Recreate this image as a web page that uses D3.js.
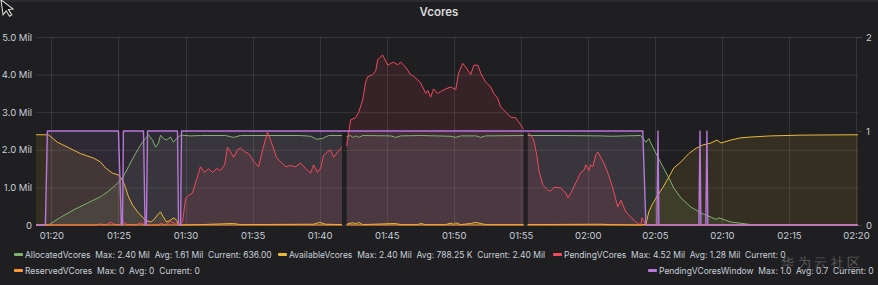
<!DOCTYPE html>
<html>
<head>
<meta charset="utf-8">
<script src="https://cdn.jsdelivr.net/npm/d3@7"></script>
<style>
  html, body { margin: 0; padding: 0; background: #1f1f21; }
  svg { display: block; }
  text { font-family: Inter, Roboto, "Noto Sans", sans-serif; }
</style>
</head>
<body>
<svg id="chart" width="878" height="285"></svg>
<script>
// ---------------- DATA (values in millions, right axis series 0..1) ----------------
const title = "Vcores";
const xTickLabels = ["01:20","01:25","01:30","01:35","01:40","01:45","01:50","01:55","02:00","02:05","02:10","02:15","02:20"];
const leftTicks = [0, 1, 2, 3, 4, 5];
const rightTicks = [0, 1, 2];

const allocatedVcores = [
  ["01:18:51",0],["01:19:47",0],["01:20:40",0.2],["01:21:39",0.4],["01:22:23",0.53],["01:23:08",0.66],
  ["01:23:39",0.75],["01:24:11",0.88],["01:24:47",1.06],["01:25:18",1.25],["01:25:45",1.55],["01:26:07",1.8],
  ["01:26:30",2.04],["01:26:47",2.2],["01:27:01",2.3],["01:27:14",2.4],["01:27:32",2.26],["01:27:46",2.07],
  ["01:27:59",2.18],["01:28:08",2.39],["01:28:21",2.3],["01:28:35",2.26],["01:28:53",2.34],["01:29:06",2.2],
  ["01:29:20",2.3],["01:29:38",2.39],["01:30:22",2.37],["01:31:07",2.38],["01:32:59",2.38],["01:33:35",2.33],
  ["01:34:06",2.38],["01:38:35",2.38],["01:39:20",2.36],["01:39:47",2.28],["01:40:13",2.3],["01:40:40",2.38],
  ["01:41:40",2.38],["01:41:50",null],["01:42:01",2.35],["01:42:19",2.38],["01:42:28",2.33],["01:42:41",2.37],
  ["01:42:55",2.33],["01:43:13",2.38],["01:45:18",2.37],["01:45:40",2.33],["01:46:03",2.37],["01:47:32",2.38],
  ["01:49:47",2.36],["01:50:09",2.33],["01:50:31",2.37],["01:51:39",2.37],["01:52:01",2.33],["01:52:23",2.37],
  ["01:55:13",2.38],["01:55:22",null],["01:55:31",2.38],["01:57:59",2.38],["02:00:58",2.37],["02:01:43",2.36],
  ["02:03:57",2.38],["02:04:20",2.2],["02:04:33",2.3],["02:04:51",2.07],["02:05:14",1.8],["02:05:36",1.55],
  ["02:06:03",1.25],["02:06:25",0.98],["02:06:57",0.72],["02:07:41",0.48],["02:08:26",0.32],["02:09:11",0.21],
  ["02:09:33",0.15],["02:09:47",0.19],["02:10:40",0.08],["02:12:10",0.01],["02:20:09",0]
];

const availableVcores = [
  ["01:18:51",2.4],["01:19:47",2.4],["01:20:27",2.2],["01:21:12",2.07],["01:22:10",1.9],["01:23:08",1.78],
  ["01:23:39",1.68],["01:24:02",1.52],["01:24:33",1.38],["01:25:00",1.33],["01:25:18",1.2],["01:25:31",1.0],
  ["01:25:45",0.75],["01:26:03",0.53],["01:26:25",0.35],["01:26:47",0.21],["01:27:01",0.13],["01:27:23",0.08],
  ["01:27:37",0.13],["01:27:55",0.27],["01:28:08",0.35],["01:28:21",0.21],["01:28:35",0.08],["01:28:53",0.13],
  ["01:29:06",0.19],["01:29:20",0.13],["01:29:29",0],["01:31:07",0.01],["01:33:35",0.04],["01:34:06",0.01],
  ["01:39:33",0.02],["01:40:00",0.07],["01:40:27",0.02],["01:41:40",0.01],["01:41:50",null],["01:42:01",0.02],
  ["01:42:28",0.06],["01:42:41",0.03],["01:42:55",0.07],["01:43:13",0.01],["01:45:40",0.04],["01:46:03",0.01],
  ["01:47:19",0.01],["01:47:32",0.04],["01:47:55",0.01],["01:49:24",0.01],["01:49:47",0.05],["01:50:00",0.02],
  ["01:50:09",0.06],["01:50:31",0.01],["01:51:16",0.04],["01:51:39",0.07],["01:52:01",0.04],["01:52:23",0.01],
  ["01:55:13",0.01],["01:55:22",null],["01:55:31",0.01],["02:00:58",0.02],["02:01:43",0.01],["02:03:57",0],
  ["02:04:20",0.02],["02:04:33",0.35],["02:04:51",0.58],["02:05:14",0.8],["02:05:36",1.0],["02:06:03",1.28],
  ["02:06:25",1.52],["02:06:57",1.68],["02:07:32",1.9],["02:08:04",2.04],["02:08:35",2.13],["02:09:11",2.18],
  ["02:09:38",2.26],["02:09:56",2.18],["02:10:40",2.26],["02:11:25",2.32],["02:12:10",2.34],["02:13:39",2.37],
  ["02:15:54",2.39],["02:20:09",2.4]
];

const pendingVCores = [
  ["01:18:51",0],["01:23:20",0],["01:23:39",0.03],["01:24:05",0],["01:24:24",0.08],["01:24:40",0.02],
  ["01:25:05",0],["01:25:18",0.1],["01:25:35",0.02],["01:26:20",0],["01:26:38",0.06],["01:27:00",0],
  ["01:28:00",0],["01:28:08",0.05],["01:28:30",0],["01:28:53",0.1],["01:29:15",0.03],["01:29:38",0.02],
  ["01:29:47",0.1],["01:30:00",0.7],["01:30:13",0.78],["01:30:31",0.85],["01:30:49",1.2],["01:31:07",1.55],
  ["01:31:25",1.4],["01:31:43",1.5],["01:32:01",1.4],["01:32:19",1.5],["01:32:37",1.45],["01:32:55",1.6],
  ["01:33:08",2.07],["01:33:21",1.95],["01:33:35",1.8],["01:33:53",2.0],["01:34:06",2.05],["01:34:24",1.95],
  ["01:34:42",1.9],["01:35:04",1.7],["01:35:27",1.55],["01:35:45",2.0],["01:36:07",2.47],["01:36:30",2.1],
  ["01:36:47",1.8],["01:37:05",1.68],["01:37:28",1.55],["01:37:50",1.58],["01:38:13",1.55],["01:38:35",1.65],
  ["01:38:57",1.5],["01:39:20",1.38],["01:39:33",1.6],["01:39:51",1.4],["01:40:05",1.52],["01:40:18",1.86],
  ["01:40:36",1.95],["01:40:49",2.0],["01:41:03",1.8],["01:41:21",1.95],["01:41:40",2.07],["01:41:50",null],
  ["01:42:01",2.1],["01:42:19",2.8],["01:42:41",2.85],["01:42:55",3.0],["01:43:13",3.33],["01:43:26",3.8],
  ["01:43:35",3.94],["01:43:57",4.0],["01:44:11",4.1],["01:44:20",4.4],["01:44:42",4.52],["01:45:05",4.25],
  ["01:45:18",4.3],["01:45:31",4.33],["01:45:49",4.26],["01:46:03",4.33],["01:46:25",4.2],["01:46:47",4.0],
  ["01:47:01",3.95],["01:47:19",3.86],["01:47:32",3.78],["01:47:55",3.5],["01:48:04",3.58],["01:48:17",3.4],
  ["01:48:30",3.62],["01:48:48",3.5],["01:49:02",3.55],["01:49:24",3.62],["01:49:47",3.67],["01:50:09",3.6],
  ["01:50:22",4.04],["01:50:40",4.3],["01:50:54",4.2],["01:51:03",4.12],["01:51:16",4.0],["01:51:30",4.25],
  ["01:51:48",4.25],["01:52:01",4.04],["01:52:23",3.8],["01:52:46",3.67],["01:52:59",3.5],["01:53:17",3.37],
  ["01:53:30",3.14],["01:53:53",3.0],["01:54:15",2.87],["01:54:38",2.85],["01:54:51",2.74],["01:55:09",2.58],
  ["01:55:13",2.55],["01:55:22",null],["01:55:31",2.45],["01:55:45",2.39],["01:55:58",2.26],["01:56:12",1.85],
  ["01:56:21",1.46],["01:56:39",1.06],["01:57:01",0.93],["01:57:14",0.9],["01:57:28",1.0],["01:57:46",1.0],
  ["01:57:59",0.98],["01:58:22",0.85],["01:58:31",0.72],["01:58:44",0.85],["01:59:06",1.12],["01:59:29",1.4],
  ["01:59:42",1.45],["01:59:51",1.6],["02:00:05",1.45],["02:00:13",1.6],["02:00:22",1.55],["02:00:36",1.86],
  ["02:00:45",1.94],["02:00:58",1.8],["02:01:12",1.65],["02:01:30",1.38],["02:01:52",0.98],["02:02:14",0.48],
  ["02:02:28",0.66],["02:02:50",0.35],["02:03:13",0.21],["02:03:35",0.08],["02:03:57",0],["02:04:02",0.19],
  ["02:04:20",0],["02:20:09",0]
];

const reservedVCores = [
  ["01:18:51",0],["01:41:40",0],["01:41:50",null],["01:42:01",0],["01:55:13",0],["01:55:22",null],["01:55:31",0],["02:20:09",0]
];

const pendingVCoresWindow = [
  ["01:18:51",0],["01:19:33",0],["01:19:42",1],["01:25:00",1],["01:25:13",0],["01:25:18",0],["01:25:22",1],
  ["01:26:52",1],["01:26:59",0],["01:27:05",0],["01:27:10",1],["01:29:24",1],["01:29:29",0],["01:29:38",0],
  ["01:29:42",1],["01:41:40",1],["01:41:50",null],["01:42:01",1],["01:55:13",1],["01:55:22",null],["01:55:31",1],
  ["02:04:06",1],["02:04:20",0],["02:05:09",0],["02:05:14",1],["02:05:18",0],["02:08:17",0],["02:08:22",1],
  ["02:08:26",0],["02:08:48",0],["02:08:53",1],["02:08:57",0],["02:20:09",0]
];

const legendItems = [
  { name: "AllocatedVcores", stats: "Max: 2.40 Mil  Avg: 1.61 Mil  Current: 636.00" },
  { name: "AvailableVcores", stats: "Max: 2.40 Mil  Avg: 788.25 K  Current: 2.40 Mil" },
  { name: "PendingVCores", stats: "Max: 4.52 Mil  Avg: 1.28 Mil  Current: 0" },
  { name: "ReservedVCores", stats: "Max: 0  Avg: 0  Current: 0" },
  { name: "PendingVCoresWindow", stats: "Max: 1.0  Avg: 0.7  Current: 0" }
];
const watermark = "华为云社区";

// ---------------- CHART ----------------
const W = 878, H = 285;
const M = { left: 36, right: 858, top: 37, bottom: 225 };
const parse = d3.timeParse("%H:%M:%S");
const svg = d3.select("#chart");

svg.append("rect").attr("width", W).attr("height", H).attr("fill", "#1f1f21");
svg.append("rect").attr("width", W).attr("height", 2).attr("fill", "#2c2c2f");

const x = d3.scaleTime().domain([parse("01:18:51"), parse("02:20:09")]).range([M.left, M.right]);
const yL = d3.scaleLinear().domain([0, 5]).range([M.bottom, M.top]);
const yR = d3.scaleLinear().domain([0, 2]).range([M.bottom, M.top]);

// title
svg.append("text").attr("x", 439).attr("y", 16).attr("text-anchor", "middle")
  .attr("fill", "#d8d9da").attr("font-size", 11.5).attr("font-weight", 600).text(title);

// grid
const grid = svg.append("g");
grid.selectAll("line.h").data(leftTicks).join("line")
  .attr("x1", M.left).attr("x2", M.right)
  .attr("y1", d => yL(d) + 0.5).attr("y2", d => yL(d) + 0.5)
  .attr("stroke", "#ffffff").attr("stroke-opacity", 0.1);
grid.selectAll("line.v").data(xTickLabels).join("line")
  .attr("x1", d => Math.round(x(parse(d + ":00"))) + 0.5).attr("x2", d => Math.round(x(parse(d + ":00"))) + 0.5)
  .attr("y1", M.top).attr("y2", M.bottom)
  .attr("stroke", "#ffffff").attr("stroke-opacity", 0.1);

// axes
const fmtL = d => d === 0 ? "0" : d.toFixed(1) + " Mil";
const axL = svg.append("g").attr("transform", `translate(${M.left - 4},0)`)
  .call(d3.axisLeft(yL).tickValues(leftTicks).tickFormat(fmtL).tickSize(0).tickPadding(0));
const axR = svg.append("g").attr("transform", `translate(${M.right},0)`)
  .call(d3.axisRight(yR).tickValues(rightTicks).tickFormat(d3.format("d")).tickSize(4).tickPadding(4));
const axB = svg.append("g").attr("transform", `translate(0,${M.bottom + 2})`)
  .call(d3.axisBottom(x).tickValues(xTickLabels.map(d => parse(d + ":00"))).tickFormat(d3.timeFormat("%H:%M")).tickSize(0).tickPadding(5));
[axL, axR, axB].forEach(g => {
  g.select(".domain").remove();
  g.selectAll("text").attr("fill", "#c7d0d9").attr("font-size", 9.5).attr("font-family", "Inter, Roboto, sans-serif");
  g.selectAll(".tick line").attr("stroke", "#ffffff").attr("stroke-opacity", 0.15);
});

// series
const series = [
  { data: allocatedVcores, color: "#7eb26d", y: yL },
  { data: availableVcores, color: "#eab839", y: yL },
  { data: pendingVCores, color: "#f2495c", y: yL },
  { data: reservedVCores, color: "#ff9830", y: yL },
  { data: pendingVCoresWindow, color: "#b877d9", y: yR }
];

const plot = svg.append("g");
series.forEach(s => {
  const pts = s.data.map(d => [parse(d[0]), d[1]]);
  const area = d3.area().defined(d => d[1] !== null)
    .x(d => x(d[0])).y0(s.y(0)).y1(d => s.y(d[1]));
  plot.append("path").attr("d", area(pts)).attr("fill", s.color).attr("fill-opacity", 0.11);
});
series.forEach((s, i) => {
  const pts = s.data.map(d => [parse(d[0]), d[1]]);
  const isWin = i === 4;
  const line = d3.line().defined(d => d[1] !== null).x(d => x(d[0])).y(d => s.y(d[1]));
  const src = isWin ? pts.filter(d => d[1] !== null) : pts;
  plot.append("path").attr("d", line(src)).attr("fill", "none")
    .attr("stroke", s.color).attr("stroke-width", isWin ? 1.4 : 1).attr("stroke-linejoin", "round");
});

// legend
const legendPos = [
  { x: 14, y: 255 }, { x: 278, y: 255 }, { x: 553, y: 255 },
  { x: 14, y: 271 }, { x: 648, y: 271 }
];
const lg = svg.append("g");
legendItems.forEach((it, i) => {
  const p = legendPos[i];
  lg.append("rect").attr("x", p.x).attr("y", p.y - 2).attr("width", 9).attr("height", 3)
    .attr("fill", series[i].color).attr("rx", 1);
  const t = lg.append("text").attr("x", p.x + 11).attr("y", p.y + 3)
    .attr("fill", "#c7d0d9").attr("font-size", 8.5).attr("xml:space", "preserve");
  t.append("tspan").text(it.name);
  t.append("tspan").text("  " + it.stats);
});

// watermark
svg.append("text").attr("x", 781).attr("y", 267).attr("fill", "#9a9a9a").attr("fill-opacity", 0.5)
  .attr("font-size", 13).attr("letter-spacing", 3.5)
  .attr("font-family", "'Noto Sans CJK SC', sans-serif").text(watermark);

// mouse cursor
svg.append("path").attr("d", "M1,0 L1,15 L4.6,11.6 L7.2,17.4 L9.6,16.4 L7,10.6 L11.6,10.6 Z")
  .attr("transform", "rotate(-8)")
  .attr("fill", "#111").attr("stroke", "#e8e8e8").attr("stroke-width", 1);
</script>
</body>
</html>
